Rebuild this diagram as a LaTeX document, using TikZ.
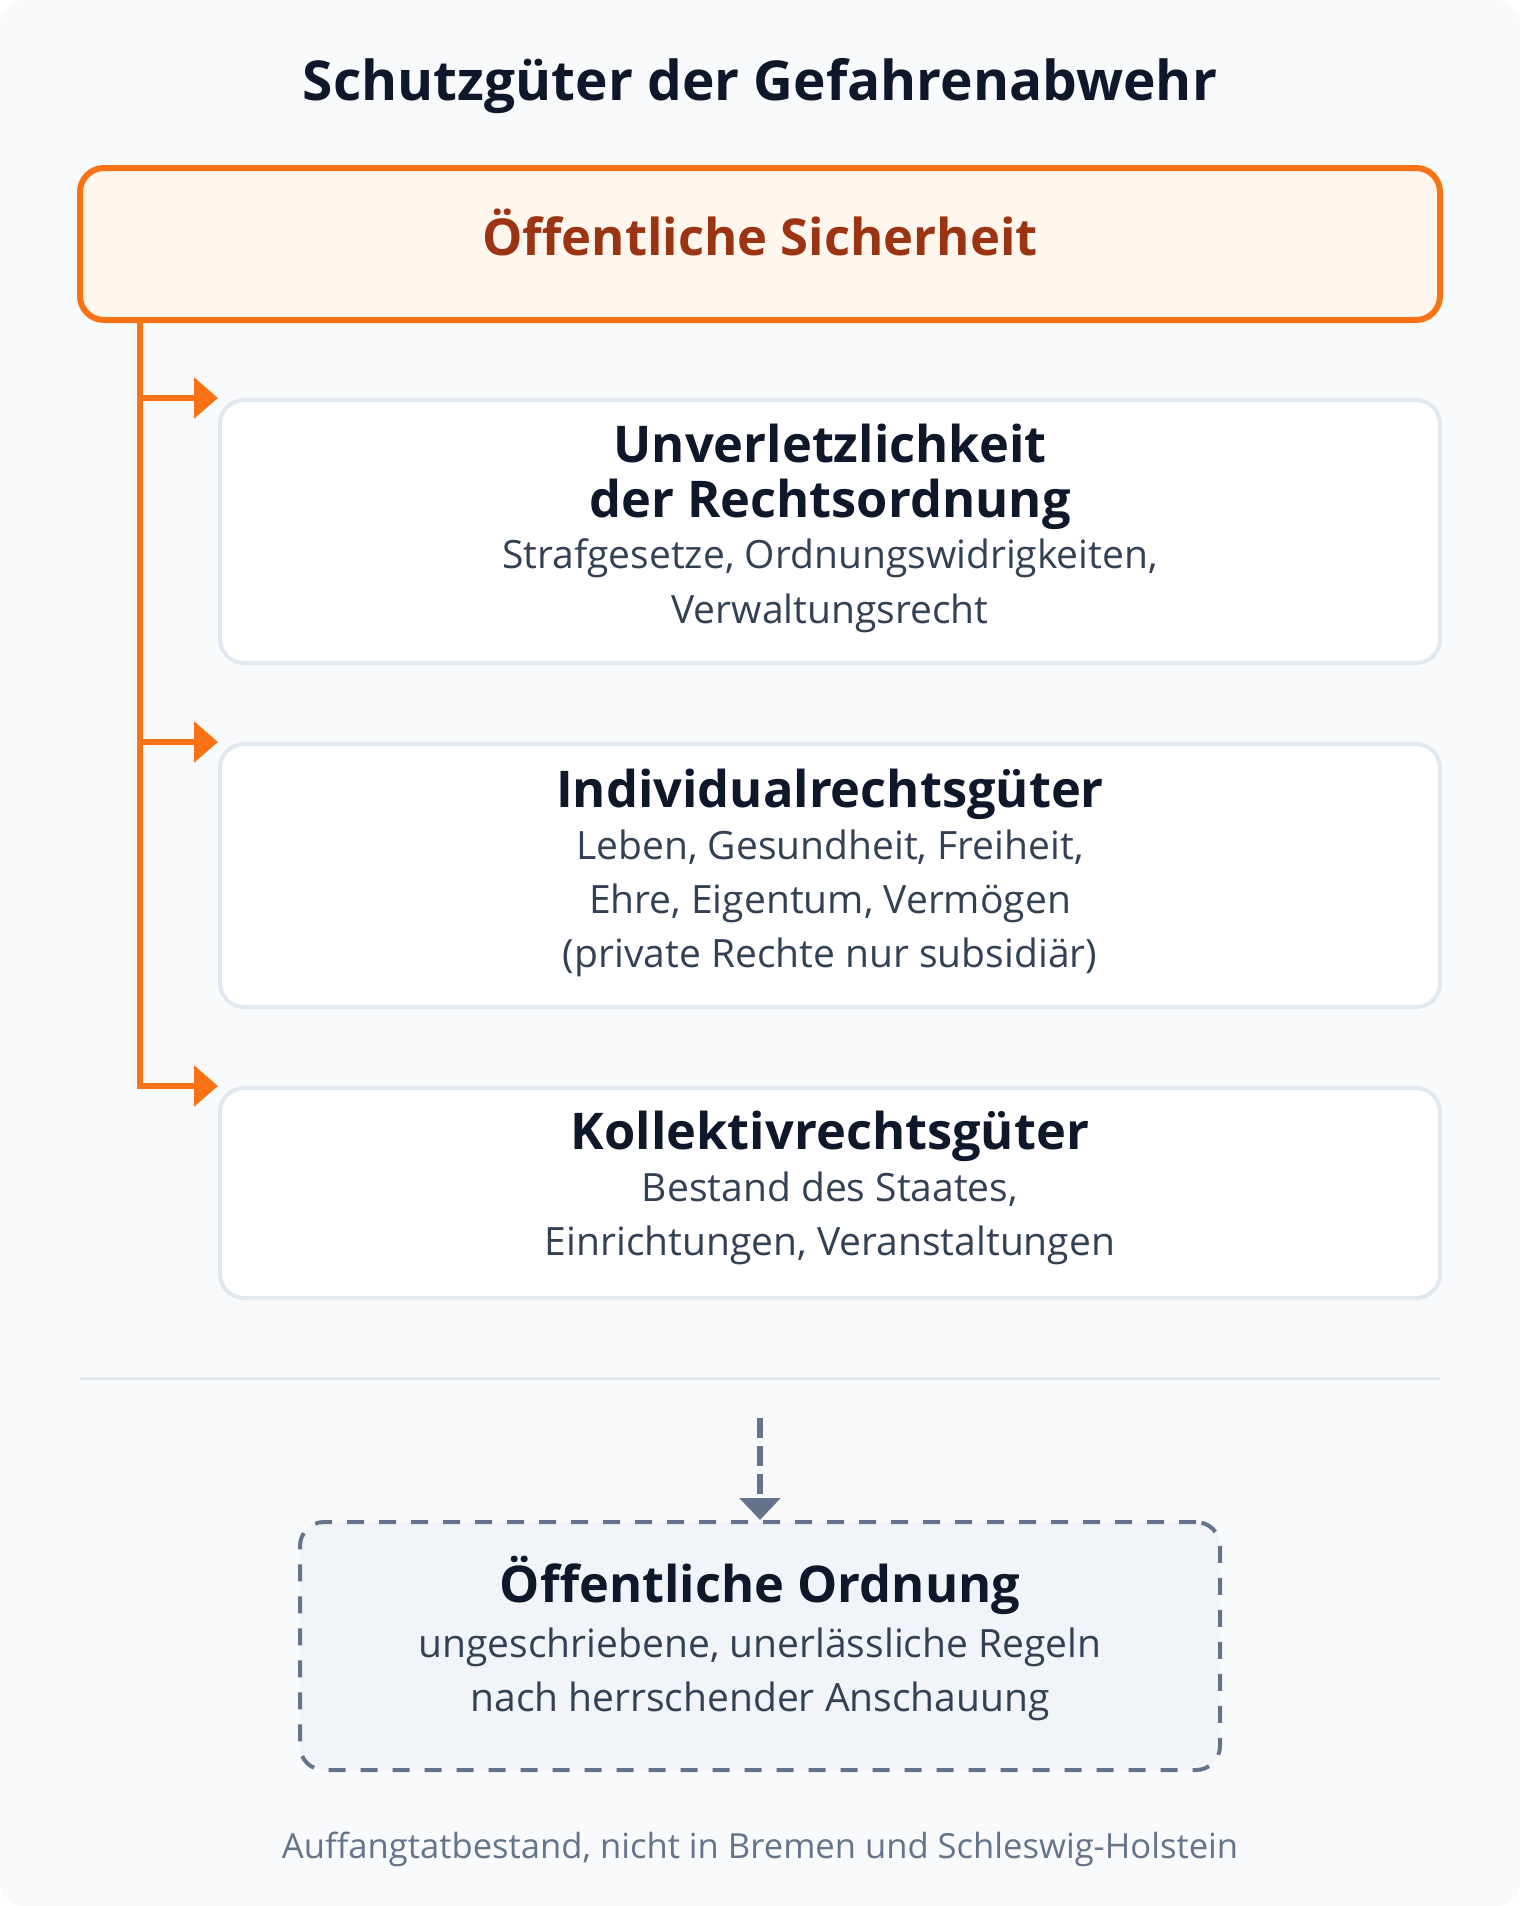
\documentclass[tikz,border=0pt]{standalone}
\usepackage{fontspec}
\setmainfont{Open Sans}
\usetikzlibrary{arrows.meta}

\definecolor{canvas}{HTML}{F8FAFC}
\definecolor{ink}{HTML}{0F172A}
\definecolor{slatetext}{HTML}{334155}
\definecolor{slategrey}{HTML}{64748B}
\definecolor{boxline}{HTML}{E2E8F0}
\definecolor{orangeline}{HTML}{F97316}
\definecolor{orangefill}{HTML}{FFF7ED}
\definecolor{orangetext}{HTML}{9A3412}
\definecolor{ordfill}{HTML}{F1F5F9}

\tikzset{
  txt/.style={inner sep=0pt, anchor=base},
  head/.style={txt, text=ink, font=\fontsize{27.5}{34}\selectfont\bfseries},
  toptext/.style={txt, text=orangetext, font=\fontsize{25.4}{30}\selectfont\bfseries},
  boxhead/.style={txt, text=ink, font=\fontsize{25.3}{30}\selectfont\bfseries},
  boxtext/.style={txt, text=slatetext, font=\fontsize{19.5}{27}\selectfont},
  foot/.style={txt, text=slategrey, font=\fontsize{17.3}{20}\selectfont},
  topbox/.style={draw=orangeline, fill=orangefill, line width=3pt, rounded corners=12pt,
    minimum width=680pt, minimum height=76pt, inner sep=0pt},
  box/.style={draw=boxline, fill=white, line width=2pt, rounded corners=12pt,
    minimum width=610pt, inner sep=0pt},
  ordbox/.style={draw=slategrey, fill=ordfill, line width=2pt, rounded corners=12pt,
    dash pattern=on 8.5pt off 7.5pt, minimum width=460pt, minimum height=124pt, inner sep=0pt},
  branch/.style={draw=orangeline, line width=3pt, -{Triangle[length=12pt,width=20pt]}},
  dropline/.style={draw=slategrey, line width=3pt, dash pattern=on 10pt off 4pt,
    -{Triangle[length=11pt,width=20pt]}},
  rule/.style={draw=boxline, line width=1.5pt}
}

\begin{document}
\begin{tikzpicture}[x=0.5pt, y=-0.5pt]

% canvas
\useasboundingbox (0,0) rectangle (1520,1906);
\fill[white] (0,0) rectangle (1520,1906);
\fill[canvas, rounded corners=12pt] (0,0) rectangle (1520,1906);

% title
\node[head] (title) at (760,100) {Schutzgüter der Gefahrenabwehr};

% public safety
\node[topbox] (sich) at (760,244) {};
\node[toptext] (sichtext) at (760,255) {Öffentliche Sicherheit};

% protected goods
\node[box, minimum height=131.5pt] (rechts) at (830,531.5) {};
\node[box, minimum height=131.5pt] (indiv) at (830,875.5) {};
\node[box, minimum height=105pt] (koll) at (830,1193) {};

\node[boxhead] (rechts1) at (830,462) {Unverletzlichkeit};
\node[boxhead] (rechts2) at (830,517) {der Rechtsordnung};
\node[boxtext] (rechts3) at (830,568) {Strafgesetze, Ordnungswidrigkeiten,};
\node[boxtext] (rechts4) at (830,623) {Verwaltungsrecht};

\node[boxhead] (indiv1) at (830,807) {Individualrechtsgüter};
\node[boxtext] (indiv2) at (830,859) {Leben, Gesundheit, Freiheit,};
\node[boxtext] (indiv3) at (830,913) {Ehre, Eigentum, Vermögen};
\node[boxtext] (indiv4) at (830,967) {(private Rechte nur subsidiär)};

\node[boxhead] (koll1) at (830,1149) {Kollektivrechtsgüter};
\node[boxtext] (koll2) at (830,1201) {Bestand des Staates,};
\node[boxtext] (koll3) at (830,1255) {Einrichtungen, Veranstaltungen};

% branches
\coordinate (stem) at (140,320);
\draw[branch] (stem) -- (stem |- koll.north west) -- (koll.north west);
\draw[branch] (stem |- rechts.north west) -- (rechts.north west);
\draw[branch] (stem |- indiv.north west) -- (indiv.north west);

% separator
\draw[rule] (80,1378) -- (1440,1378);

% public order
\node[ordbox] (ord) at (760,1646) {};
\coordinate (drop) at (760,1418);
\draw[dropline] (drop) -- (ord.north);

\node[boxhead] (ord1) at (760,1602) {Öffentliche Ordnung};
\node[boxtext] (ord2) at (760,1657) {ungeschriebene, unerlässliche Regeln};
\node[boxtext] (ord3) at (760,1711) {nach herrschender Anschauung};

% note
\node[foot] (note) at (760,1858) {Auffangtatbestand, nicht in Bremen und Schleswig-Holstein};

\end{tikzpicture}
\end{document}
